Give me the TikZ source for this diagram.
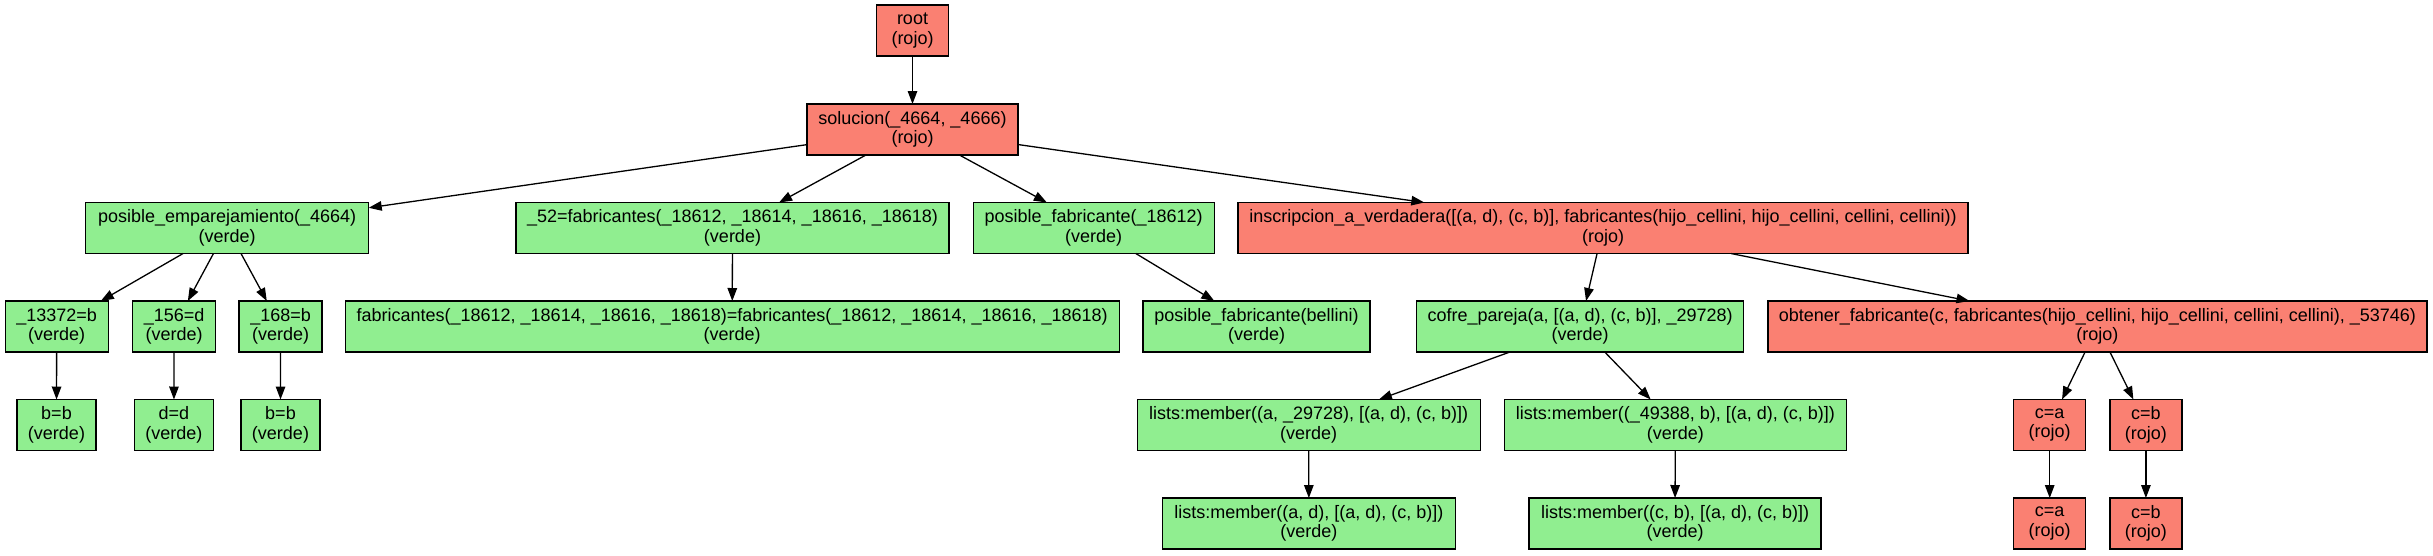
\documentclass[tikz,border=0pt]{standalone}
\usepackage{fontspec}
\setmainfont{Liberation Sans}
\usetikzlibrary{arrows.meta}

\definecolor{salmon}{HTML}{FA8072}
\definecolor{lightgreen}{HTML}{90EE90}

\begin{document}
\begin{tikzpicture}[x=1pt, y=-1pt, >={Triangle[length=13pt, width=9.5pt]},
    box/.style={draw=black, line width=1.3pt, rectangle, align=center,
        minimum height=51pt, inner xsep=2pt, inner ysep=0pt, outer sep=0pt,
        font=\fontsize{18}{19.5}\selectfont},
    rojo/.style={box, fill=salmon},
    verde/.style={box, fill=lightgreen},
    edge/.style={->, line width=1.3pt}]

    % ── Canvas ───────────────────────────────────────────────────────────────
    \useasboundingbox (0,0) rectangle (2433,555);

    % ── Rank 1 and 2 ─────────────────────────────────────────────────────────
    \node[rojo, minimum width=72pt]  (root) at (912.5,30.5)  {root\\(rojo)};
    \node[rojo, minimum width=211pt] (sol)  at (912.5,129.5) {solucion(\_4664, \_4666)\\(rojo)};

    % ── Rank 3 ───────────────────────────────────────────────────────────────
    \node[verde, minimum width=283pt] (pemp) at (227.2,228)
        {posible\_emparejamiento(\_4664)\\(verde)};
    \node[verde, minimum width=433pt] (f52)  at (732.5,228)
        {\_52=fabricantes(\_18612, \_18614, \_18616, \_18618)\\(verde)};
    \node[verde, minimum width=241pt] (pfab) at (1093.7,228)
        {posible\_fabricante(\_18612)\\(verde)};
    \node[rojo, minimum width=730pt]  (insc) at (1603,228)
        {inscripcion\_a\_verdadera([(a, d), (c, b)], fabricantes(hijo\_cellini, hijo\_cellini, cellini, cellini))\\(rojo)};

    % ── Rank 4 ───────────────────────────────────────────────────────────────
    \node[verde, minimum width=103pt] (b13372) at (56.7,326.5)  {\_13372=b\\(verde)};
    \node[verde, minimum width=83pt]  (b156)   at (174.1,326.5) {\_156=d\\(verde)};
    \node[verde, minimum width=83pt]  (b168)   at (280.6,326.5) {\_168=b\\(verde)};
    \node[verde, minimum width=774pt] (fabeq)  at (732.2,326.5)
        {fabricantes(\_18612, \_18614, \_18616, \_18618)=fabricantes(\_18612, \_18614, \_18616, \_18618)\\(verde)};
    \node[verde, minimum width=227pt] (pbell)  at (1256.5,326.5)
        {posible\_fabricante(bellini)\\(verde)};
    \node[verde, minimum width=327pt] (cofre)  at (1580.1,326.5)
        {cofre\_pareja(a, [(a, d), (c, b)], \_29728)\\(verde)};
    \node[rojo, minimum width=659pt]  (obt)    at (2097.4,326.5)
        {obtener\_fabricante(c, fabricantes(hijo\_cellini, hijo\_cellini, cellini, cellini), \_53746)\\(rojo)};

    % ── Rank 5 ───────────────────────────────────────────────────────────────
    \node[verde, minimum width=79pt]  (bb1) at (56.5,425)  {b=b\\(verde)};
    \node[verde, minimum width=79pt]  (dd)  at (173.9,425) {d=d\\(verde)};
    \node[verde, minimum width=79pt]  (bb2) at (280.5,425) {b=b\\(verde)};
    \node[verde, minimum width=343pt] (lm1) at (1308.7,425)
        {lists:member((a, \_29728), [(a, d), (c, b)])\\(verde)};
    \node[verde, minimum width=342pt] (lm2) at (1675.3,425)
        {lists:member((\_49388, b), [(a, d), (c, b)])\\(verde)};
    \node[rojo, minimum width=72pt]   (ca1) at (2049.7,425) {c=a\\(rojo)};
    \node[rojo, minimum width=72pt]   (cb1) at (2145.9,425) {c=b\\(rojo)};

    % ── Rank 6 ───────────────────────────────────────────────────────────────
    \node[verde, minimum width=293pt] (lm3) at (1308.9,523.5)
        {lists:member((a, d), [(a, d), (c, b)])\\(verde)};
    \node[verde, minimum width=292pt] (lm4) at (1675,523.5)
        {lists:member((c, b), [(a, d), (c, b)])\\(verde)};
    \node[rojo, minimum width=72pt]   (ca2) at (2049.7,523.5) {c=a\\(rojo)};
    \node[rojo, minimum width=72pt]   (cb2) at (2145.9,523.5) {c=b\\(rojo)};

    % ── Edges ────────────────────────────────────────────────────────────────
    \foreach \a/\b in {root/sol, sol/pemp, sol/f52, sol/pfab, sol/insc,
            pemp/b13372, pemp/b156, pemp/b168, b13372/bb1, b156/dd, b168/bb2,
            f52/fabeq, pfab/pbell, insc/cofre, insc/obt,
            cofre/lm1, cofre/lm2, lm1/lm3, lm2/lm4,
            obt/ca1, obt/cb1, ca1/ca2, cb1/cb2}
        \draw[edge] (\a) -- (\b);

\end{tikzpicture}
\end{document}
